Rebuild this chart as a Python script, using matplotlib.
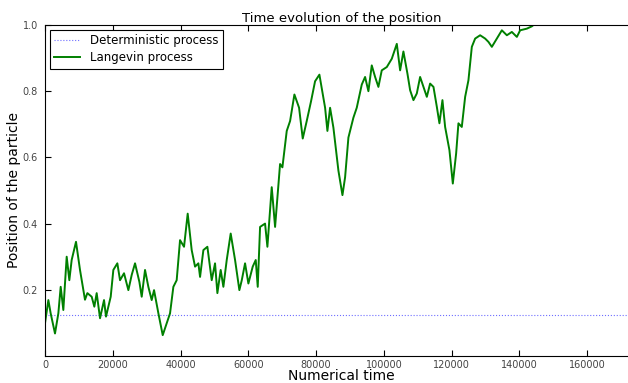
import matplotlib.pyplot as plt

# Langevin trajectory (time, position)
langevin_time = [0, 990, 1670, 2950, 3940, 4630, 5410, 6400, 7180, 7870, 9150,
                 10330, 11800, 12500, 13780, 14560, 15250, 16240, 17420, 18000,
                 19390, 20170, 21350, 22140, 23320, 24600, 25590, 26570, 27850,
                 28540, 29520, 30500, 31490, 32180, 33460, 34740, 35920, 36900,
                 37880, 38860, 39850, 41030, 42110, 43290, 44280, 45260, 45760,
                 46740, 47920, 49200, 50180, 50870, 51850, 52640, 53630, 54800,
                 56090, 57360, 58070, 59040, 60020, 61300, 62190, 62780, 63470,
                 64940, 65630, 66910, 67900, 69370, 70060, 71340, 72330, 73600,
                 74980, 76060, 77240, 78520, 79700, 80980, 82660, 83340, 84130,
                 85110, 86590, 87780, 88560, 89540, 91010, 92000, 93480, 94460,
                 95440, 96430, 97420, 98390, 99380, 100870, 102340, 103820,
                 104800, 105770, 106960, 107750, 108730, 109720, 110700, 111680,
                 112680, 113650, 114640, 115630, 116400, 117290, 118080, 119350,
                 120350, 121330, 122010, 123000, 123990, 124960, 125960, 126940,
                 128410, 129890, 130860, 131870, 133340, 134820, 136300, 137770,
                 139250, 140220, 142200, 143670, 144150, 175000]
langevin_pos = [0.099, 0.169, 0.129, 0.068, 0.129, 0.209, 0.139, 0.30, 0.229, 0.29,
                0.345, 0.26, 0.17, 0.19, 0.179, 0.149, 0.19, 0.114, 0.169, 0.119,
                0.179, 0.26, 0.28, 0.229, 0.25, 0.199, 0.245, 0.28, 0.224, 0.179,
                0.26, 0.209, 0.169, 0.199, 0.129, 0.063, 0.099, 0.129, 0.209,
                0.229, 0.35, 0.33, 0.43, 0.32, 0.27, 0.28, 0.239, 0.32, 0.33,
                0.229, 0.28, 0.19, 0.26, 0.209, 0.29, 0.37, 0.29, 0.199, 0.229,
                0.28, 0.219, 0.27, 0.29, 0.209, 0.39, 0.40, 0.33, 0.51, 0.39,
                0.58, 0.57, 0.68, 0.71, 0.79, 0.75, 0.657, 0.71, 0.77, 0.83,
                0.85, 0.75, 0.68, 0.75, 0.69, 0.56, 0.486, 0.54, 0.66, 0.72,
                0.75, 0.82, 0.843, 0.80, 0.878, 0.843, 0.813, 0.863, 0.873,
                0.898, 0.943, 0.863, 0.92, 0.853, 0.803, 0.773, 0.793, 0.843,
                0.813, 0.783, 0.823, 0.813, 0.753, 0.703, 0.773, 0.692, 0.622,
                0.521, 0.612, 0.703, 0.692, 0.783, 0.833, 0.934, 0.959, 0.969,
                0.959, 0.949, 0.934, 0.959, 0.984, 0.969, 0.979, 0.964, 0.984,
                0.989, 0.996, 1.0, 1.0]

# Deterministic process stays put
deterministic_time = [0, 175000]
deterministic_pos = [0.125, 0.125]

x_ticks = [0, 20000, 40000, 60000, 80000, 100000, 120000, 140000, 160000]
y_ticks = [0.2, 0.4, 0.6, 0.8, 1.0]

fig = plt.figure(figsize=(6.28, 3.83), dpi=100)
ax = fig.add_axes([45 / 628, 1 - 356 / 383, 593 / 628, 331 / 383])

ax.plot(deterministic_time, deterministic_pos, ':', color='#6f6fff', lw=0.8,
        label='Deterministic process')
ax.plot(langevin_time, langevin_pos, '-', color='g', lw=1.4,
        label='Langevin process')

ax.set_xlim(0, 175000)
ax.set_ylim(0, 1.0)
ax.set_xticks(x_ticks)
ax.set_yticks(y_ticks)
ax.tick_params(direction='in', top=True, right=True, labelsize=7,
               labelcolor='#444444', length=4)
ax.tick_params(axis='x', pad=3)
ax.tick_params(axis='y', pad=5)

ax.set_title('Time evolution of the position', fontsize=9.5, pad=2)
ax.set_xlabel('Numerical time', fontsize=10, labelpad=-1)
ax.set_ylabel('Position of the particle', fontsize=10, labelpad=1)

leg = ax.legend(loc='upper left', fontsize=8.5, fancybox=False,
                framealpha=1, edgecolor='black', handlelength=2.2,
                borderaxespad=0.4, labelspacing=0.3)
leg.get_frame().set_linewidth(0.8)

plt.savefig('out.png', dpi=100)
